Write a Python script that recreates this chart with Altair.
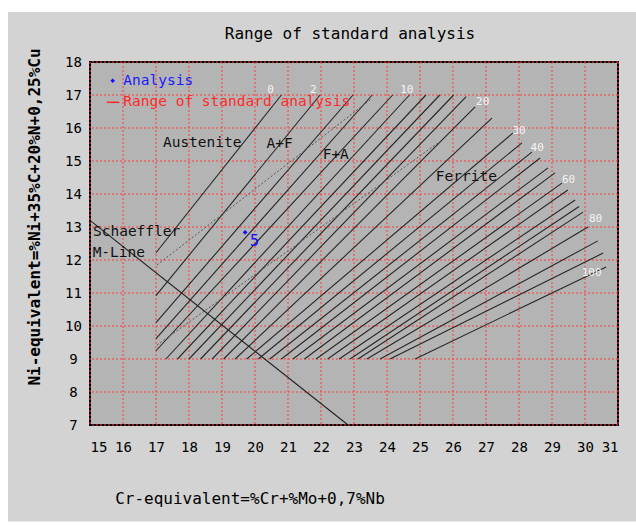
import altair as alt
import pandas as pd

# ---- ferrite iso-lines (start / end points) ----
ferrite = [0, 2, 4, 6, 8, 10, 12, 14, 16, 18, 20, 25, 30, 35, 40, 45, 50, 55, 60, 65, 70, 75, 80, 85, 90, 95, 100]
start_cr = [17, 17, 17, 17, 17, 17.3, 17.65, 18.0, 18.35, 18.7, 19.05, 19.4, 19.75, 20.1, 20.45, 20.8,
            21.15, 21.5, 21.85, 22.2, 22.55, 22.88, 23.12, 23.39, 23.79, 24.09, 24.85]
start_ni = [12.22, 10.92, 10.1, 9.62, 9.25, 9, 9, 9, 9, 9, 9, 9, 9, 9, 9, 9,
            9, 9, 9, 9, 9, 9, 9, 9, 9, 9, 9]
end_cr = [20.8, 21.97, 22.97, 23.55, 24.17, 24.68, 25.18, 25.6, 26.02, 26.4, 26.67, 27.18, 27.82, 28.09,
          28.39, 28.64, 28.88, 29.09, 29.3, 29.48, 29.7, 29.82, 29.94, 30.09, 30.39, 30.55, 30.64]
end_ni = [17, 17, 17, 17, 17, 17, 17, 17, 17, 16.95, 16.64, 16.3, 15.85, 15.55, 15.27, 15.09, 14.79,
          14.64, 14.33, 14.12, 13.82, 13.62, 13.45, 13.0, 12.58, 12.21, 11.79]

# ---- dotted boundary lines ----
dot_start_cr = [17.03, 17.03]
dot_start_ni = [11.85, 9.42]
dot_end_cr = [23.55, 25.55]
dot_end_ni = [16.9, 15.55]

# ---- Schaeffler M-line ----
mline_start_cr = [15.0]
mline_start_ni = [13.2]
mline_end_cr = [22.82]
mline_end_ni = [7.0]

# ---- analysis point ----
analysis_cr = [19.7]
analysis_ni = [12.84]
analysis_label = ["5"]

# ---- iso-line labels ----
lab_text = ["0", "2", "10", "20", "30", "40", "60", "80", "100"]
lab_cr = [20.47, 21.77, 24.6, 26.9, 28.0, 28.55, 29.5, 30.32, 30.2]
lab_ni = [17.16, 17.16, 17.14, 16.8, 15.9, 15.4, 14.42, 13.23, 11.61]

# ---- region labels ----
region_text = ["Austenite", "A+F", "F+A", "Ferrite", "Schaeffler", "M-Line"]
region_cr = [17.21, 20.35, 22.05, 25.48, 15.09, 15.08]
region_ni = [15.54, 15.52, 15.18, 14.52, 12.86, 12.2]

x_ticks = list(range(15, 32))
y_ticks = list(range(7, 19))

MONO = "DejaVu Sans Mono"
GRID_RED = "#ff3c3c"
xs = alt.Scale(domain=[15, 31], nice=False, zero=False)
ys = alt.Scale(domain=[7, 18], nice=False, zero=False)

xaxis = alt.Axis(values=x_ticks, title=None, grid=False, ticks=False, domain=False,
                 labelFont=MONO, labelFontSize=14, labelPadding=15, labelColor="black",
                 labelOverlap=False)
yaxis = alt.Axis(values=y_ticks, title=None, grid=False, ticks=False, domain=False,
                 labelFont=MONO, labelFontSize=14, labelPadding=17, labelAlign="center",
                 labelColor="black", labelOverlap=False)


def X(field):
    return alt.X(field, scale=xs, axis=xaxis)


def Y(field):
    return alt.Y(field, scale=ys, axis=yaxis)


# red dotted grid, one rule per tick value
vgrid = alt.Chart(pd.DataFrame({"v": x_ticks})).mark_rule(
    color=GRID_RED, strokeWidth=1, strokeDash=[2, 2]).encode(x=X("v:Q"))
hgrid = alt.Chart(pd.DataFrame({"v": y_ticks})).mark_rule(
    color=GRID_RED, strokeWidth=1, strokeDash=[2, 2]).encode(y=Y("v:Q"))

iso_df = pd.DataFrame({"f": ferrite, "x": start_cr, "y": start_ni, "x2": end_cr, "y2": end_ni})
iso = alt.Chart(iso_df).mark_rule(color="#262626", strokeWidth=1.1).encode(
    x=X("x:Q"), y=Y("y:Q"), x2="x2:Q", y2="y2:Q", detail="f:N")

dot_df = pd.DataFrame({"x": dot_start_cr, "y": dot_start_ni, "x2": dot_end_cr, "y2": dot_end_ni})
dots = alt.Chart(dot_df).mark_rule(color="#555555", strokeWidth=1, strokeDash=[2, 2]).encode(
    x=X("x:Q"), y=Y("y:Q"), x2="x2:Q", y2="y2:Q")

m_df = pd.DataFrame({"x": mline_start_cr, "y": mline_start_ni, "x2": mline_end_cr, "y2": mline_end_ni})
mline = alt.Chart(m_df).mark_rule(color="#222222", strokeWidth=1.1).encode(
    x=X("x:Q"), y=Y("y:Q"), x2="x2:Q", y2="y2:Q")

a_df = pd.DataFrame({"x": analysis_cr, "y": analysis_ni, "t": analysis_label})
apt = alt.Chart(a_df).mark_point(shape="diamond", filled=True, color="#1010ff", size=22, opacity=1).encode(
    x=X("x:Q"), y=Y("y:Q"))
atxt = alt.Chart(a_df).mark_text(font=MONO, fontSize=15, color="#1010ff", align="left",
                                 baseline="middle", dx=5, dy=9).encode(
    x=X("x:Q"), y=Y("y:Q"), text="t:N")

lab_df = pd.DataFrame({"x": lab_cr, "y": lab_ni, "t": lab_text})
labs = alt.Chart(lab_df).mark_text(font=MONO, fontSize=11, color="#f4f4f4", align="center",
                                   baseline="middle").encode(
    x=X("x:Q"), y=Y("y:Q"), text="t:N")

reg_df = pd.DataFrame({"x": region_cr, "y": region_ni, "t": region_text})
regs = alt.Chart(reg_df).mark_text(font=MONO, fontSize=14.5, color="#111111", align="left",
                                   baseline="middle").encode(
    x=X("x:Q"), y=Y("y:Q"), text="t:N")


def one(t):
    return pd.DataFrame({"t": [t]})


# white page margins around the grey panel
margin_top = alt.Chart(one("m")).mark_rect(color="white").encode(
    x=alt.value(-90), x2=alt.value(546), y=alt.value(-62), y2=alt.value(-50))
margin_left = alt.Chart(one("m")).mark_rect(color="white").encode(
    x=alt.value(-90), x2=alt.value(-82), y=alt.value(-62), y2=alt.value(463))
margin_bot = alt.Chart(one("m")).mark_rect(color="white").encode(
    x=alt.value(-90), x2=alt.value(546), y=alt.value(459.5), y2=alt.value(463))

title = alt.Chart(one("Range of standard analysis")).mark_text(
    font=MONO, fontSize=16, color="black", align="center", baseline="middle").encode(
    x=alt.value(260), y=alt.value(-28), text="t:N")
ytitle = alt.Chart(one("Ni-equivalent=%Ni+35%C+20%N+0,25%Cu")).mark_text(
    font=MONO, fontSize=16, fontWeight="bold", color="black", align="center", baseline="middle",
    angle=270).encode(x=alt.value(-55), y=alt.value(155), text="t:N")
xtitle = alt.Chart(one("Cr-equivalent=%Cr+%Mo+0,7%Nb")).mark_text(
    font=MONO, fontSize=16, color="black", align="center", baseline="middle").encode(
    x=alt.value(160), y=alt.value(437), text="t:N")

# legend (inside the plot, top-left)
leg_pt = alt.Chart(one("Analysis")).mark_point(shape="diamond", filled=True, color="#1010ff",
                                                size=20, opacity=1).encode(
    x=alt.value(22.7), y=alt.value(18.7))
leg_pt_t = alt.Chart(one("Analysis")).mark_text(font=MONO, fontSize=14.5, color="#1a1aff",
                                                 align="left", baseline="middle").encode(
    x=alt.value(33.3), y=alt.value(18.7), text="t:N")
leg_ln = alt.Chart(one("Range of standard analysis")).mark_rule(color="#ff2a2a", strokeWidth=1.5).encode(
    x=alt.value(16.7), x2=alt.value(29.3), y=alt.value(40.3))
leg_ln_t = alt.Chart(one("Range of standard analysis")).mark_text(
    font=MONO, fontSize=14.5, color="#ff2a2a", align="left", baseline="middle").encode(
    x=alt.value(33.3), y=alt.value(40.3), text="t:N")

chart = alt.layer(
    vgrid, hgrid, iso, dots, mline, regs, labs, apt, atxt,
    leg_pt, leg_pt_t, leg_ln, leg_ln_t,
    title, ytitle, xtitle,
    margin_top, margin_left, margin_bot,
).properties(
    width=528, height=363,
    autosize=alt.AutoSizeParams(type="none"),
    padding={"left": 90, "top": 62, "right": 18, "bottom": 100},
    background="#d3d3d3",
).configure_view(
    fill="#b4b4b4", stroke="black", strokeWidth=2
).configure_axis(grid=False)

chart.save("out.html", embed_options={"renderer": "svg", "actions": False})
